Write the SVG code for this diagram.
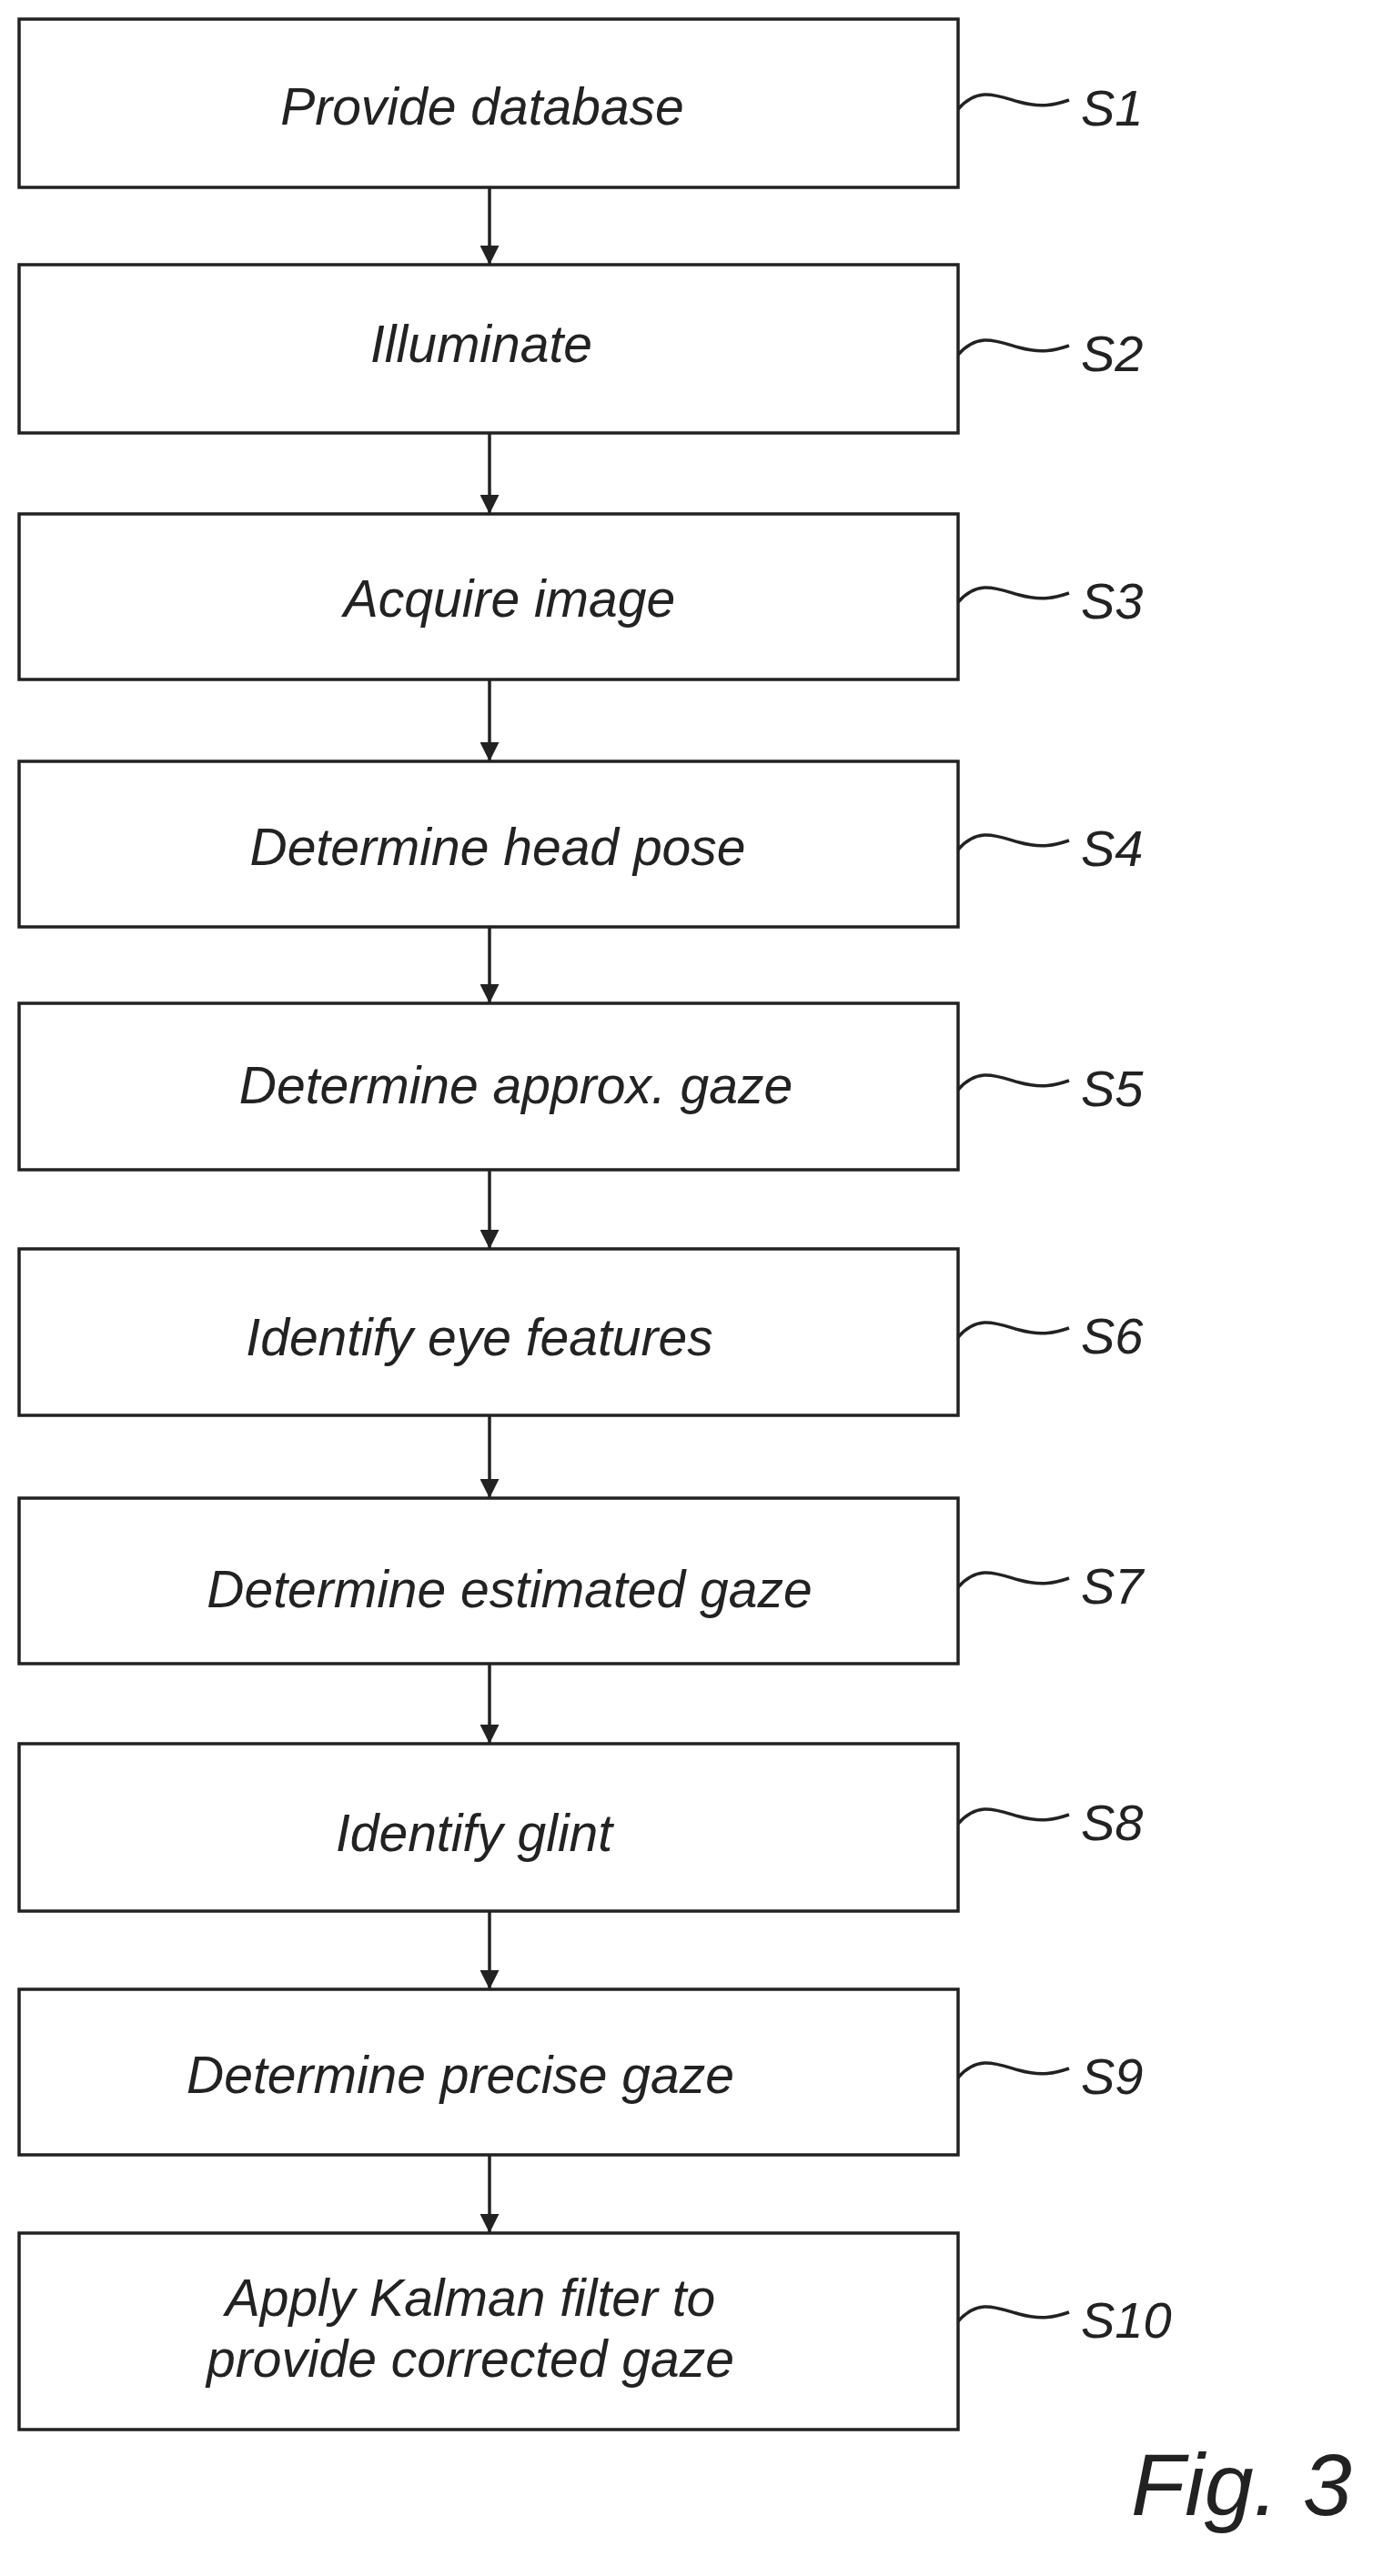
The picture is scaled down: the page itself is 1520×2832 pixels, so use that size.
<svg xmlns="http://www.w3.org/2000/svg" width="1520" height="2832" viewBox="0 0 1520 2832">
<style>
.b{fill:#fff;stroke:#222;stroke-width:3.5}
.t{font-family:"Liberation Sans",Arial,sans-serif;font-style:italic;font-size:57px;fill:#222;text-anchor:middle}
.l{font-family:"Liberation Sans",Arial,sans-serif;font-style:italic;font-size:56px;fill:#222}
.c{fill:none;stroke:#222;stroke-width:3.5}
</style>
<defs><marker id="a" viewBox="0 0 10 10" refX="10" refY="5" markerWidth="6" markerHeight="6" orient="auto" markerUnits="strokeWidth"><path d="M0,0 L10,5 L0,10 z" fill="#222"/></marker></defs>
<rect width="1520" height="2832" fill="#fff"/>
<g id="connectors">
<path class="c" d="M538,206V291" marker-end="url(#a)"/>
<path class="c" d="M538,476V565" marker-end="url(#a)"/>
<path class="c" d="M538,747V837" marker-end="url(#a)"/>
<path class="c" d="M538,1019V1103" marker-end="url(#a)"/>
<path class="c" d="M538,1286V1373" marker-end="url(#a)"/>
<path class="c" d="M538,1556V1647" marker-end="url(#a)"/>
<path class="c" d="M538,1829V1917" marker-end="url(#a)"/>
<path class="c" d="M538,2101V2187" marker-end="url(#a)"/>
<path class="c" d="M538,2369V2455" marker-end="url(#a)"/>
</g>
<g id="s1"><rect class="b" x="21" y="21" width="1032" height="185"/><text class="t" x="530" y="137">Provide database</text><path class="c" d="M1053,120C1075,95 1095,105 1120,112S1160,115 1175,110"/><text class="l" x="1188" y="138">S1</text></g>
<g id="s2"><rect class="b" x="21" y="291" width="1032" height="185"/><text class="t" x="529" y="398">Illuminate</text><path class="c" d="M1053,390C1075,365 1095,375 1120,382S1160,385 1175,380"/><text class="l" x="1188" y="408">S2</text></g>
<g id="s3"><rect class="b" x="21" y="565" width="1032" height="182"/><text class="t" x="560" y="678">Acquire image</text><path class="c" d="M1053,662C1075,637 1095,647 1120,654S1160,657 1175,652"/><text class="l" x="1188" y="680">S3</text></g>
<g id="s4"><rect class="b" x="21" y="837" width="1032" height="182"/><text class="t" x="547" y="951">Determine head pose</text><path class="c" d="M1053,934C1075,909 1095,919 1120,926S1160,929 1175,924"/><text class="l" x="1188" y="952">S4</text></g>
<g id="s5"><rect class="b" x="21" y="1103" width="1032" height="183"/><text class="t" x="567" y="1213">Determine approx. gaze</text><path class="c" d="M1053,1198C1075,1173 1095,1183 1120,1190S1160,1193 1175,1188"/><text class="l" x="1188" y="1216">S5</text></g>
<g id="s6"><rect class="b" x="21" y="1373" width="1032" height="183"/><text class="t" x="527" y="1490">Identify eye features</text><path class="c" d="M1053,1470C1075,1445 1095,1455 1120,1462S1160,1465 1175,1460"/><text class="l" x="1188" y="1488">S6</text></g>
<g id="s7"><rect class="b" x="21" y="1647" width="1032" height="182"/><text class="t" x="560" y="1767">Determine estimated gaze</text><path class="c" d="M1053,1745C1075,1720 1095,1730 1120,1737S1160,1740 1175,1735"/><text class="l" x="1188" y="1763">S7</text></g>
<g id="s8"><rect class="b" x="21" y="1917" width="1032" height="184"/><text class="t" x="521" y="2035">Identify glint</text><path class="c" d="M1053,2005C1075,1980 1095,1990 1120,1997S1160,2000 1175,1995"/><text class="l" x="1188" y="2023">S8</text></g>
<g id="s9"><rect class="b" x="21" y="2187" width="1032" height="182"/><text class="t" x="506" y="2301">Determine precise gaze</text><path class="c" d="M1053,2284C1075,2259 1095,2269 1120,2276S1160,2279 1175,2274"/><text class="l" x="1188" y="2302">S9</text></g>
<g id="s10"><rect class="b" x="21" y="2455" width="1032" height="216"/><text class="t" x="517" y="2546">Apply Kalman filter to</text><text class="t" x="517" y="2613">provide corrected gaze</text><path class="c" d="M1053,2552C1075,2527 1095,2537 1120,2544S1160,2547 1175,2542"/><text class="l" x="1188" y="2570">S10</text></g>
<text class="l" x="1243" y="2765" style="font-size:97px">Fig. 3</text>
</svg>
